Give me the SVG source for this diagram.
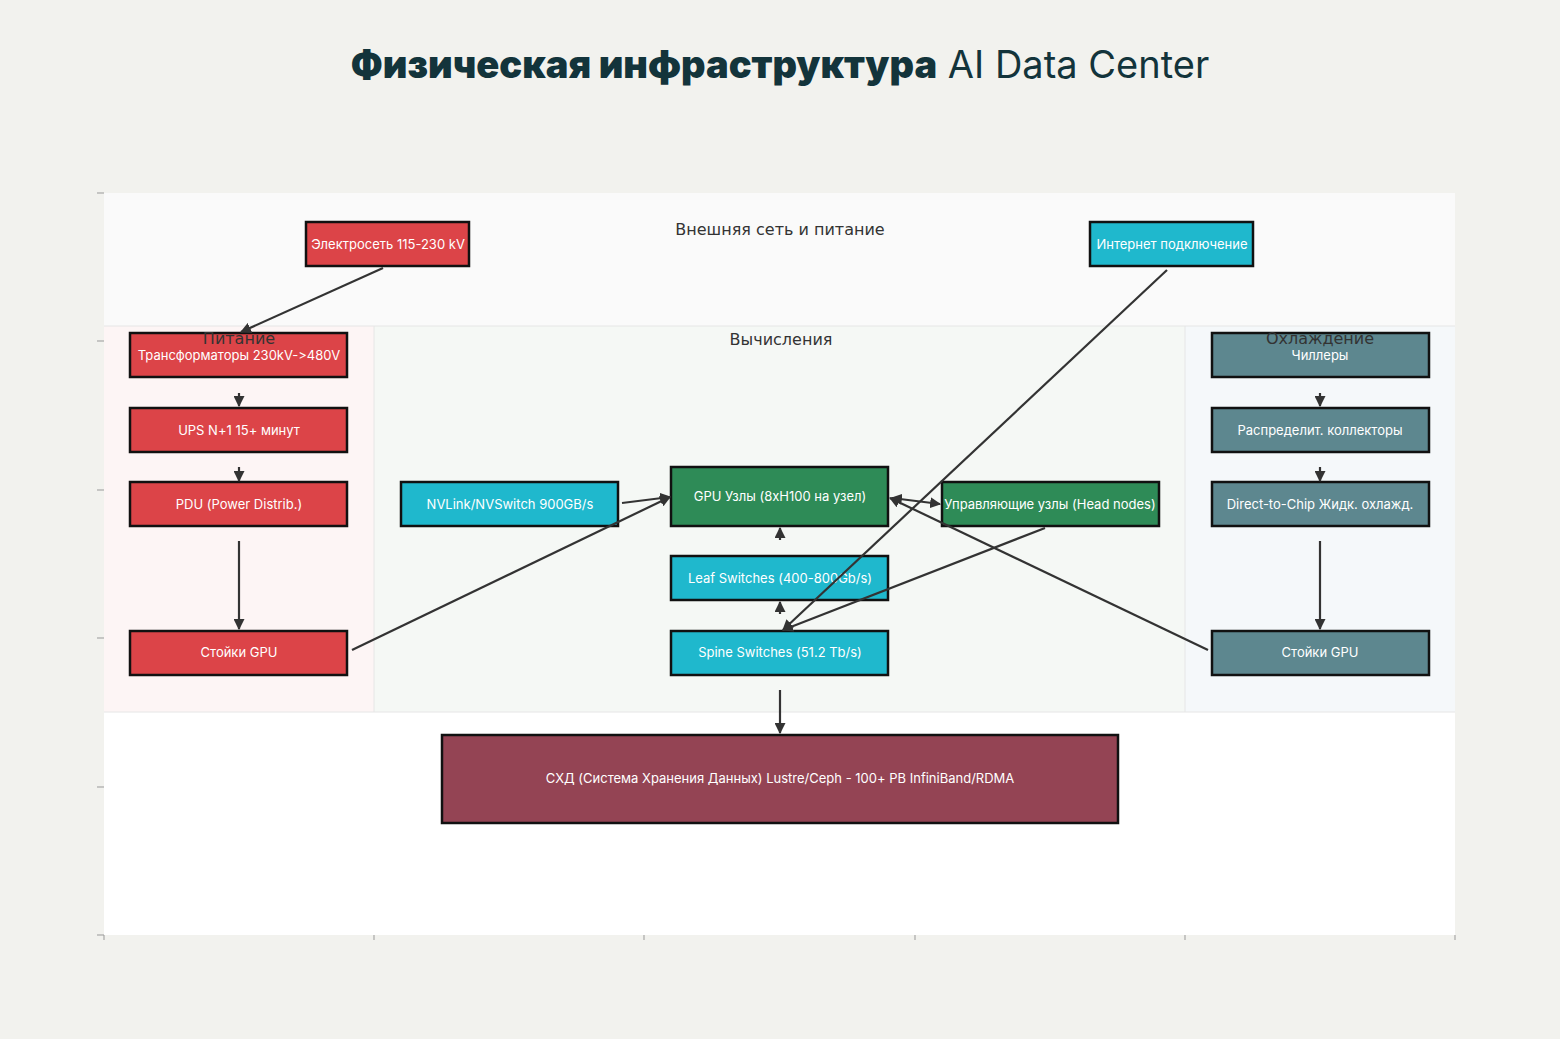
<svg xmlns="http://www.w3.org/2000/svg" width="1560" height="1039" viewBox="0 0 1560 1039">
<defs>
<marker id="ah" viewBox="0 0 10 10" refX="9" refY="5" markerWidth="5" markerHeight="5" orient="auto-start-reverse"><path d="M0,0L10,5L0,10z" fill="#333"/></marker>
<style>
.n{stroke:#111;stroke-width:2.5}
.t{font-family:"Inter","Liberation Sans",sans-serif;font-size:13px;fill:#fff;text-anchor:middle;dominant-baseline:middle;font-variant-ligatures:none;font-feature-settings:"calt" 0,"liga" 0}
.lb{font-family:"DejaVu Sans",sans-serif;font-size:16px;fill:#333;text-anchor:middle}
.c{stroke:#333;stroke-width:2.2;fill:none;marker-end:url(#ah)}
.red{fill:#dc4448}.cy{fill:#1fb8cd}.gr{fill:#2e8b57}.sl{fill:#5d878f}
.tk{stroke:#999;stroke-width:1}
</style>
</defs>
<rect width="1560" height="1039" fill="#f2f2ee"/>
<text x="780" y="78" text-anchor="middle" font-family="Inter,'Liberation Sans',sans-serif" font-size="38" fill="#13343b"><tspan font-weight="900">Физическая инфраструктура</tspan> AI Data Center</text>
<g id="panels">
<rect x="104" y="193" width="1351" height="742" fill="#fff"/>
<rect x="104" y="193" width="1351" height="133" fill="#fafafa"/>
<rect x="104" y="326" width="270" height="386" fill="#fdf5f5"/>
<rect x="374" y="326" width="811" height="386" fill="#f5f8f5"/>
<rect x="1185" y="326" width="270" height="386" fill="#f5f8fa"/>
<path d="M104,326H1455M374,326V712M1185,326V712M104,712H1455" stroke="#e6e6e6" stroke-width="1"/>
<path class="tk" d="M104,935v5M374,935v5M644,935v5M915,935v5M1185,935v5M1455,935v5M97,193h7M97,341h7M97,490h7M97,638h7M97,787h7M97,935h7"/>
<text class="lb" x="780" y="235" font-size="17">Внешняя сеть и питание</text>
<text class="lb" x="781" y="345">Вычисления</text>
</g>
<g id="n1"><rect class="n red" x="306" y="222" width="163" height="44"/><text class="t" x="388" y="245">Электросеть 115-230 kV</text></g>
<g id="n2"><rect class="n cy" x="1090" y="222" width="163" height="44"/><text class="t" x="1172" y="245">Интернет подключение</text></g>
<g id="n3"><rect class="n red" x="130" y="333" width="217" height="44"/><text class="lb" x="239" y="344">Питание</text><text class="t" x="239" y="356">Трансформаторы 230kV-&gt;480V</text></g>
<g id="n4"><rect class="n red" x="130" y="408" width="217" height="44"/><text class="t" x="239" y="431">UPS N+1 15+ минут</text></g>
<g id="n5"><rect class="n red" x="130" y="482" width="217" height="44"/><text class="t" x="239" y="505">PDU (Power Distrib.)</text></g>
<g id="n6"><rect class="n red" x="130" y="631" width="217" height="44"/><text class="t" x="239" y="653">Стойки GPU</text></g>
<g id="n7"><rect class="n cy" x="401" y="482" width="217" height="44"/><text class="t" x="510" y="505">NVLink/NVSwitch 900GB/s</text></g>
<g id="n8"><rect class="n gr" x="671" y="467" width="217" height="59"/><text class="t" x="780" y="497">GPU Узлы (8xH100 на узел)</text></g>
<g id="n9"><rect class="n gr" x="942" y="482" width="217" height="44"/><text class="t" x="1050" y="505">Управляющие узлы (Head nodes)</text></g>
<g id="n10"><rect class="n cy" x="671" y="556" width="217" height="44"/><text class="t" x="780" y="579">Leaf Switches (400-800Gb/s)</text></g>
<g id="n11"><rect class="n cy" x="671" y="631" width="217" height="44"/><text class="t" x="780" y="653">Spine Switches (51.2 Tb/s)</text></g>
<g id="n12"><rect class="n sl" x="1212" y="333" width="217" height="44"/><text class="lb" x="1320" y="344">Охлаждение</text><text class="t" x="1320" y="356">Чиллеры</text></g>
<g id="n13"><rect class="n sl" x="1212" y="408" width="217" height="44"/><text class="t" x="1320" y="431">Распределит. коллекторы</text></g>
<g id="n14"><rect class="n sl" x="1212" y="482" width="217" height="44"/><text class="t" x="1320" y="505">Direct-to-Chip Жидк. охлажд.</text></g>
<g id="n15"><rect class="n sl" x="1212" y="631" width="217" height="44"/><text class="t" x="1320" y="653">Стойки GPU</text></g>
<g id="n16"><rect class="n" fill="#944454" x="442" y="735" width="676" height="88"/><text class="t" x="780" y="779">СХД (Система Хранения Данных) Lustre/Ceph - 100+ PB InfiniBand/RDMA</text></g>
<g id="connectors">
<path class="c" d="M383,268L241,332"/>
<path class="c" d="M239,393L239,406"/>
<path class="c" d="M239,467L239,481"/>
<path class="c" d="M239,541L239,629"/>
<path class="c" d="M352,650L670,497"/>
<path class="c" d="M622,503L670,497"/>
<path class="c" d="M780,540L780,528"/>
<path class="c" d="M780,614L780,602"/>
<path class="c" d="M1167,270L783,630"/>
<path class="c" d="M1045,528L783,630"/>
<path class="c" d="M892,498L940,504" marker-start="url(#ah)"/>
<path class="c" d="M1208,650L890,498"/>
<path class="c" d="M1320,393L1320,406"/>
<path class="c" d="M1320,467L1320,481"/>
<path class="c" d="M1320,541L1320,629"/>
<path class="c" d="M780,690L780,733"/>
</g>
</svg>
